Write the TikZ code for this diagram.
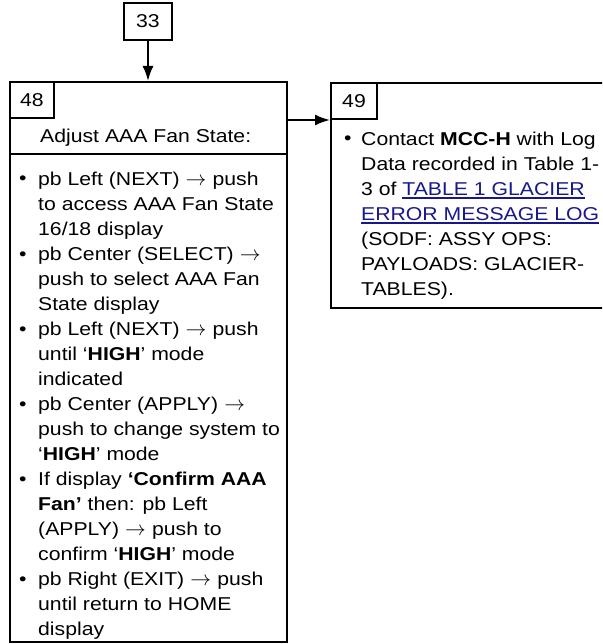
\documentclass[tikz,border=0pt]{standalone}
\usepackage{fontspec}
\setmainfont{Liberation Sans}[FakeStretch=1.14]
\usepackage{xcolor}
\usepackage{tikz}
\usetikzlibrary{positioning,arrows.meta}
\definecolor{linkblue}{RGB}{24,24,140}
\newcommand{\pbarrow}{\makebox[33pt]{\fontsize{20}{25}\selectfont$\rightarrow$}}
\newcommand{\glink}[1]{{\color{linkblue}\setbox0\hbox{#1}\rlap{\rule[-3.5pt]{\wd0}{1.3pt}}\box0}}
\tikzset{
  stepbox/.style={draw=black, line width=2pt, inner sep=0pt},
  lblbox/.style={draw=black, line width=2pt, inner sep=0pt, font=\fontsize{18.6}{22}\selectfont},
  flow/.style={draw=black, line width=2pt, -{Latex[length=15pt,width=11pt]}},
  item/.style={anchor=base west, align=left, inner sep=0pt, font=\fontsize{18.6}{25}\selectfont},
  dot/.style={anchor=base west, inner sep=0pt, font=\fontsize{18.6}{25}\selectfont}
}
\begin{document}
\begin{tikzpicture}[x=1pt, y=-1pt]
        \useasboundingbox (0,0) rectangle (602,644);
        \clip (0,0) rectangle (602,644);
        \node[lblbox, minimum width=48pt, minimum height=37pt] (n33) at (148,21.5) {33};
        \node[stepbox, minimum width=277pt, minimum height=560pt] (s48) at (148.5,362) {};
        \node[lblbox, minimum width=44pt, minimum height=36pt] (l48) at (32,100) {48};
        \node[stepbox, minimum width=275pt, minimum height=225pt] (s49) at (468.5,195.5) {};
        \node[lblbox, minimum width=46pt, minimum height=36pt] (l49) at (354,101) {49};
        \coordinate (sep) at (0,154.5);
        \draw[line width=2pt] (s48.west |- sep) -- (s48.east |- sep);
        \draw[flow] (n33.south) -- (n33.south |- s48.north);
        \draw[flow] (s48.east |- l49.south west) -- (l49.south west);
        \node[item] (hd) at (40,143) {Adjust AAA Fan State:};
        \node[dot] (d1) at (19,185) {\textbullet};
        \node[item] (i1) at (38,235) {pb Left (NEXT)\pbarrow push\\to access AAA Fan State\\16/18 display};
        \node[dot] (d2) at (19,260) {\textbullet};
        \node[item] (i2) at (38,310) {pb Center (SELECT)\pbarrow\\push to select AAA Fan\\State display};
        \node[dot] (d3) at (19,335) {\textbullet};
        \node[item] (i3) at (38,385) {pb Left (NEXT)\pbarrow push\\until ‘\textbf{HIGH}’ mode\\indicated};
        \node[dot] (d4) at (19,410) {\textbullet};
        \node[item] (i4) at (38,460) {pb Center (APPLY)\pbarrow\\push to change system to\\‘\textbf{HIGH}’ mode};
        \node[dot] (d5) at (19,485) {\textbullet};
        \node[item] (i5) at (38,560) {If display \textbf{‘Confirm AAA}\\\textbf{Fan'} then: pb Left\\(APPLY)\pbarrow push to\\confirm ‘\textbf{HIGH}’ mode};
        \node[dot] (d6) at (19,585) {\textbullet};
        \node[item] (i6) at (38,635) {pb Right (EXIT)\pbarrow push\\until return to HOME\\display};
        \node[dot] (d7) at (344,145) {\textbullet};
        \node[item] (i7) at (361,295) {Contact \textbf{MCC-H} with Log\\Data recorded in Table 1-\\3 of \glink{TABLE 1 GLACIER}\\\glink{ERROR MESSAGE LOG}\\(SODF: ASSY OPS:\\PAYLOADS: GLACIER-\\TABLES).};
      \end{tikzpicture}
\end{document}
